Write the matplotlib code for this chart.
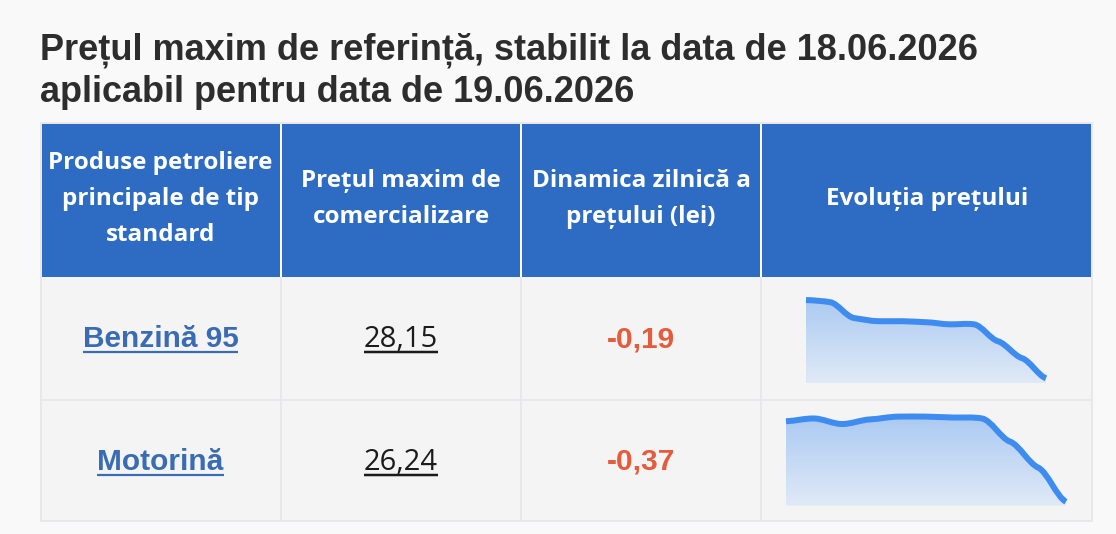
import matplotlib
matplotlib.use('Agg')
import matplotlib.pyplot as plt
from matplotlib.path import Path
from matplotlib.patches import PathPatch, Rectangle
from matplotlib.colors import LinearSegmentedColormap
import numpy as np

W, H = 1116, 534
PX = 72 / 100  # points per pixel at dpi 100

# --- data ---
title_lines = ['Prețul maxim de referință, stabilit la data de 18.06.2026',
               'aplicabil pentru data de 19.06.2026']
headers = ['Produse petroliere\nprincipale de tip\nstandard',
           'Prețul maxim de\ncomercializare',
           'Dinamica zilnică a\nprețului (lei)',
           'Evoluția prețului']
products = ['Benzină 95', 'Motorină']
prices = ['28,15', '26,24']
changes = ['-0,19', '-0,37']
hist_benzina = [28.89, 28.87, 28.72, 28.69, 28.69, 28.68, 28.66, 28.66, 28.50, 28.34, 28.15]
hist_motorina = [27.11, 27.14, 27.08, 27.13, 27.16, 27.16, 27.15, 27.14, 26.89, 26.61, 26.24]

# layout (pixels)
col_edges = [40, 281, 521, 761, 1093]
head_top, head_bot = 122, 277
row_edges = [277, 399.5, 522]
spark_boxes = [(806, 295, 1046, 383.3), (786, 412, 1066, 505.7)]
spark_ylims = [(28.1025, 28.9375), (26.197, 27.21)]

BLUE = '#2e6bc3'
BORDER = '#e7e7ec'
LINE = '#3f8cf0'

fig = plt.figure(figsize=(W / 100, H / 100), dpi=100, facecolor='#f9f9f9')
ax = fig.add_axes([0, 0, 1, 1])
ax.set_xlim(0, W)
ax.set_ylim(H, 0)
ax.axis('off')

# table frame + backgrounds
ax.add_patch(Rectangle((col_edges[0], head_top), col_edges[-1] - col_edges[0], row_edges[-1] - head_top,
                       facecolor=BORDER, edgecolor='none'))
ax.add_patch(Rectangle((42, 124), 1091 - 42, head_bot - 124, facecolor=BLUE, edgecolor='none'))
ax.add_patch(Rectangle((42, head_bot), 1091 - 42, 520 - head_bot, facecolor='#f4f4f4', edgecolor='none'))
for xe in col_edges[1:-1]:
    ax.plot([xe, xe], [124, head_bot], color='white', lw=2 * PX, solid_capstyle='butt')
    ax.plot([xe, xe], [head_bot, 520], color=BORDER, lw=2 * PX, solid_capstyle='butt')
ax.plot([42, 1091], [row_edges[1], row_edges[1]], color=BORDER, lw=2 * PX, solid_capstyle='butt')

# title
for i, line in enumerate(title_lines):
    ax.text(40, 60 + 42 * i, line, fontsize=26, fontweight='bold', family='Liberation Sans',
            color='#2d2d2d', va='baseline', ha='left')

# header text
for i, h in enumerate(headers):
    cx = (col_edges[i] + col_edges[i + 1]) / 2
    ax.text(cx, 199, h, fontsize=17.5, fontweight='bold', family='Open Sans', color='white',
            ha='center', va='center', linespacing=1.68)

renderer = fig.canvas.get_renderer()


def underline(t, color, y, lw):
    bb = t.get_window_extent(renderer=renderer)
    xa, _ = ax.transData.inverted().transform((bb.x0, bb.y0))
    xb, _ = ax.transData.inverted().transform((bb.x1, bb.y0))
    ax.plot([xa, xb], [y, y], color=color, lw=lw * PX, solid_capstyle='butt')


for r in range(2):
    base = 347 + 123 * r
    c0 = (col_edges[0] + col_edges[1]) / 2
    c1 = (col_edges[1] + col_edges[2]) / 2
    c2 = (col_edges[2] + col_edges[3]) / 2
    t = ax.text(c0, base, products[r], fontsize=21.5, fontweight='bold', family='Liberation Sans',
                color='#3a6cb4', ha='center', va='baseline')
    underline(t, '#3a6cb4', base + 5, 2.2)
    t = ax.text(c1, base, prices[r], fontsize=21, family='Open Sans', color='#1b1b1b',
                ha='center', va='baseline')
    underline(t, '#1b1b1b', base + 5, 2.5)
    ax.text(c2, base, changes[r], fontsize=21.5, fontweight='bold', family='Liberation Sans',
            color='#e55b3b', ha='center', va='baseline')


def smooth_path(xs, ys, alpha=0.4):
    # hermite curve with damped tangents, written as cubic bezier segments
    xs = np.asarray(xs, dtype=float)
    ys = np.asarray(ys, dtype=float)
    slopes = np.diff(ys) / np.diff(xs)
    m = np.empty(len(xs))
    m[0], m[-1] = slopes[0], slopes[-1]
    m[1:-1] = (slopes[:-1] + slopes[1:]) / 2
    m *= alpha
    verts = [(xs[0], ys[0])]
    codes = [Path.MOVETO]
    for i in range(1, len(xs)):
        h = (xs[i] - xs[i - 1]) / 3
        verts += [(xs[i - 1] + h, ys[i - 1] + m[i - 1] * h),
                  (xs[i] - h, ys[i] - m[i] * h),
                  (xs[i], ys[i])]
        codes += [Path.CURVE4] * 3
    return np.array(verts), codes


cmap = LinearSegmentedColormap.from_list('fill', ['#e0eaf7', '#a8c8f1'])

for hist, box, ylim in zip([hist_benzina, hist_motorina], spark_boxes, spark_ylims):
    x0, y0, x1, y1 = box
    sax = fig.add_axes([x0 / W, 1 - y1 / H, (x1 - x0) / W, (y1 - y0) / H])
    n = len(hist)
    sax.set_xlim(0, n - 1)
    sax.set_ylim(*ylim)
    sax.axis('off')
    verts, codes = smooth_path(np.arange(n), hist)
    fill_verts = np.vstack([verts, [[n - 1, ylim[0]], [0, ylim[0]], verts[0]]])
    fill_codes = codes + [Path.LINETO, Path.LINETO, Path.CLOSEPOLY]
    clip = PathPatch(Path(fill_verts, fill_codes), facecolor='none', edgecolor='none')
    sax.add_patch(clip)
    grad = np.linspace(0, 1, 256).reshape(-1, 1)
    im = sax.imshow(grad, cmap=cmap, extent=[0, n - 1, ylim[0], ylim[1]], origin='lower',
                    aspect='auto', interpolation='bilinear')
    im.set_clip_path(clip)
    sax.add_patch(PathPatch(Path(verts, codes), facecolor='none', edgecolor=LINE, lw=6 * PX,
                            capstyle='butt', joinstyle='round', clip_on=False))

fig.savefig('out.png', dpi=100, facecolor=fig.get_facecolor())
